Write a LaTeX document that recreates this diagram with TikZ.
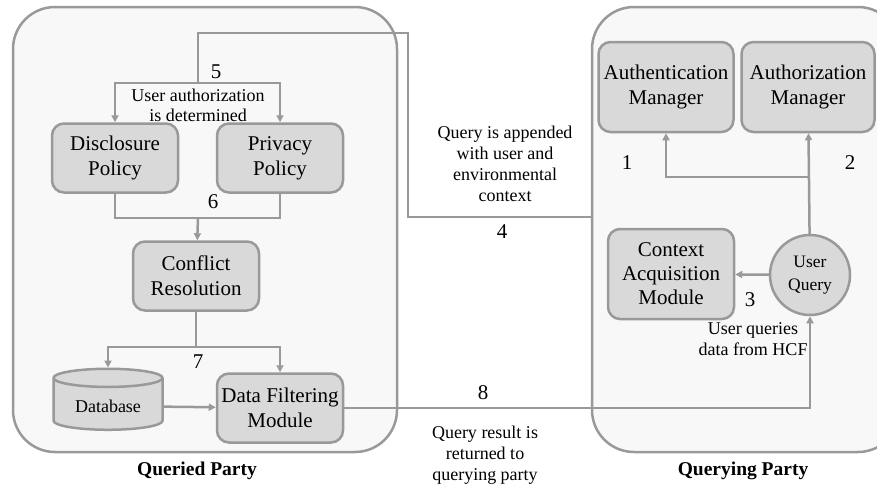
\documentclass[tikz,border=0pt]{standalone}
\usepackage{fontspec}
\setmainfont{Liberation Serif}
\usetikzlibrary{shapes.geometric,arrows.meta,positioning,calc}
\definecolor{linecol}{HTML}{999999}
\definecolor{boxcol}{HTML}{D9D9D9}
\definecolor{panelcol}{HTML}{F8F8F8}

\begin{document}
\begin{tikzpicture}[x=1pt,y=-1pt,
  panel/.style={draw=linecol,line width=2.5pt,rounded corners=42pt,fill=panelcol},
  block/.style={draw=linecol,line width=2.5pt,rounded corners=12pt,fill=boxcol,minimum width=126pt,minimum height=69pt,align=center,font=\fontsize{21}{25}\selectfont,inner sep=1pt},
  dbase/.style={cylinder,shape border rotate=90,aspect=0.25,draw=linecol,line width=2.5pt,fill=boxcol,minimum width=109pt,minimum height=61pt,font=\fontsize{18}{20}\selectfont},
  uq/.style={circle,draw=linecol,line width=2.5pt,fill=boxcol,minimum size=80pt,align=center,font=\fontsize{17.5}{23}\selectfont,inner sep=0pt},
  arr/.style={-{Triangle[length=7pt,width=7pt]},draw=linecol,line width=2.5pt},
  conn/.style={draw=linecol,line width=2.5pt},
  num/.style={font=\fontsize{21}{24}\selectfont},
  lbl/.style={align=center,font=\fontsize{18}{21}\selectfont},
  title/.style={font=\fontsize{19.5}{22}\selectfont\bfseries}]
  \useasboundingbox (0,0) rectangle (877,488);
  \clip (0,0) rectangle (877,488);
  % parties
  \draw[panel] (13,7) rectangle (397,452);
  \draw[panel] (592,7) rectangle (900,452);
  \node[title] (queried) at (197,471) {Queried Party};
  \node[title] (querying) at (743,471) {Querying Party};
  % queried party
  \node[block] (disc) at (115,158) {Disclosure\\Policy};
  \node[block] (priv) at (280,158) {Privacy\\Policy};
  \node[block] (conf) at (196,276) {Conflict\\Resolution};
  \node[dbase] (db) at (108,406) {Database};
  \node[block] (filt) at (280,408) {Data Filtering\\Module};
  % querying party
  \node[block,minimum width=135pt,minimum height=90pt] (authn) at (666,87) {Authentication\\Manager};
  \node[block,minimum width=133pt,minimum height=90pt] (authz) at (808,87) {Authorization\\Manager};
  \node[block,minimum height=90pt,font=\fontsize{21}{24}\selectfont] (ctx) at (671,274) {Context\\Acquisition\\Module};
  \node[uq] (query) at (810,275) {User\\Query};
  \coordinate (qin) at (592,217);
  % steps 1-3
  \draw[arr] (query) -- (authz);
  \draw[arr] (query.north |- 0,177) -| (authn);
  \draw[arr] (query) -- (ctx);
  \node[num] (n1) at (627,163) {1};
  \node[num] (n2) at (850,163) {2};
  \node[num] (n3) at (750,300) {3};
  \node[lbl] (l3) at (753,339) {User queries\\data from HCF};
  % steps 4-5
  \draw[conn] (qin) -- (408,217) -- (408,33) -- (198,33) -- (198,83);
  \draw[arr] (198,83) -| (disc);
  \draw[arr] (198,83) -| (priv);
  \node[num] (n4) at (502,232) {4};
  \node[lbl] (l4) at (505,164) {Query is appended\\with user and\\environmental\\context};
  \node[num] (n5) at (216,72) {5};
  \node[lbl,fill=panelcol,inner sep=0pt,font=\fontsize{18}{20}\selectfont] (l5) at (198,105) {User authorization\\is determined};
  % step 6
  \draw[conn] (disc) |- (198,218) -| (priv);
  \draw[arr] (198,218) -- (conf);
  \node[num] (n6) at (213,202) {6};
  % step 7
  \draw[conn] (conf) -- (196,347);
  \draw[arr] (196,347) -| (db.north);
  \draw[arr] (196,347) -| (filt);
  \node[num] (n7) at (198,362) {7};
  \draw[arr] (db) -- (filt);
  % step 8
  \draw[arr] (filt) -| (query);
  \node[num] (n8) at (483,393) {8};
  \node[lbl] (l8) at (485,455) {Query result is\\returned to\\querying party};
\end{tikzpicture}
\end{document}
